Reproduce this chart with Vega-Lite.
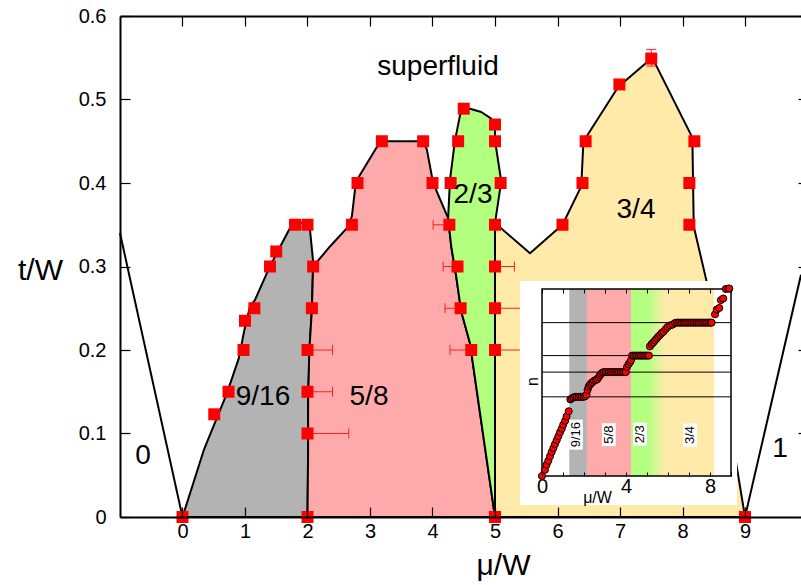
{
  "$schema": "https://vega.github.io/schema/vega-lite/v6.json",
  "width": 681,
  "height": 501,
  "autosize": "none",
  "padding": {"left": 120, "top": 16, "right": 0, "bottom": 68},
  "background": "white",
  "config": {
    "view": {"stroke": null},
    "font": "Liberation Sans",
    "axis": {"grid": false, "labelColor": "black", "titleColor": "black", "tickColor": "black", "domainColor": "black", "titleFontWeight": "normal", "labelFont": "Liberation Sans", "titleFont": "Liberation Sans", "zindex": 1, "labelFlush": false, "labelOverlap": false}
  },
  "datasets": {
    "regions": [
      {"r": "gray", "mu": 0, "t": 0}, {"r": "gray", "mu": 0.34, "t": 0.08}, {"r": "gray", "mu": 0.71, "t": 0.148}, {"r": "gray", "mu": 0.9, "t": 0.19}, {"r": "gray", "mu": 0.99, "t": 0.224}, {"r": "gray", "mu": 1.08, "t": 0.252}, {"r": "gray", "mu": 1.16, "t": 0.26}, {"r": "gray", "mu": 1.35, "t": 0.292}, {"r": "gray", "mu": 1.48, "t": 0.312}, {"r": "gray", "mu": 1.72, "t": 0.346}, {"r": "gray", "mu": 1.8, "t": 0.352}, {"r": "gray", "mu": 2.0, "t": 0.352}, {"r": "gray", "mu": 2.04, "t": 0.344}, {"r": "gray", "mu": 2.09, "t": 0.306}, {"r": "gray", "mu": 2.07, "t": 0.248}, {"r": "gray", "mu": 2.03, "t": 0.2}, {"r": "gray", "mu": 2.01, "t": 0.14}, {"r": "gray", "mu": 2.01, "t": 0.08}, {"r": "gray", "mu": 2.0, "t": 0}, {"r": "gray", "mu": 0, "t": 0},
      {"r": "pink", "mu": 2.0, "t": 0}, {"r": "pink", "mu": 2.01, "t": 0.08}, {"r": "pink", "mu": 2.01, "t": 0.14}, {"r": "pink", "mu": 2.03, "t": 0.2}, {"r": "pink", "mu": 2.07, "t": 0.248}, {"r": "pink", "mu": 2.09, "t": 0.3}, {"r": "pink", "mu": 2.36, "t": 0.324}, {"r": "pink", "mu": 2.63, "t": 0.346}, {"r": "pink", "mu": 2.71, "t": 0.36}, {"r": "pink", "mu": 2.76, "t": 0.392}, {"r": "pink", "mu": 2.81, "t": 0.406}, {"r": "pink", "mu": 3.11, "t": 0.443}, {"r": "pink", "mu": 3.19, "t": 0.45}, {"r": "pink", "mu": 3.85, "t": 0.45}, {"r": "pink", "mu": 3.91, "t": 0.44}, {"r": "pink", "mu": 4.01, "t": 0.4}, {"r": "pink", "mu": 4.25, "t": 0.358}, {"r": "pink", "mu": 4.3, "t": 0.324}, {"r": "pink", "mu": 4.38, "t": 0.288}, {"r": "pink", "mu": 4.46, "t": 0.246}, {"r": "pink", "mu": 4.6, "t": 0.208}, {"r": "pink", "mu": 5.0, "t": 0}, {"r": "pink", "mu": 2.0, "t": 0},
      {"r": "green", "mu": 5.0, "t": 0}, {"r": "green", "mu": 4.6, "t": 0.208}, {"r": "green", "mu": 4.46, "t": 0.246}, {"r": "green", "mu": 4.38, "t": 0.288}, {"r": "green", "mu": 4.3, "t": 0.324}, {"r": "green", "mu": 4.25, "t": 0.358}, {"r": "green", "mu": 4.28, "t": 0.404}, {"r": "green", "mu": 4.36, "t": 0.451}, {"r": "green", "mu": 4.44, "t": 0.481}, {"r": "green", "mu": 4.5, "t": 0.49}, {"r": "green", "mu": 4.6, "t": 0.489}, {"r": "green", "mu": 4.78, "t": 0.485}, {"r": "green", "mu": 4.94, "t": 0.477}, {"r": "green", "mu": 5.0, "t": 0.468}, {"r": "green", "mu": 5.0, "t": 0.451}, {"r": "green", "mu": 5.1, "t": 0.402}, {"r": "green", "mu": 5.0, "t": 0.352}, {"r": "green", "mu": 5.0, "t": 0},
      {"r": "yellow", "mu": 5.0, "t": 0}, {"r": "yellow", "mu": 5.0, "t": 0.352}, {"r": "yellow", "mu": 5.56, "t": 0.316}, {"r": "yellow", "mu": 6.08, "t": 0.35}, {"r": "yellow", "mu": 6.38, "t": 0.396}, {"r": "yellow", "mu": 6.41, "t": 0.443}, {"r": "yellow", "mu": 6.46, "t": 0.455}, {"r": "yellow", "mu": 6.97, "t": 0.515}, {"r": "yellow", "mu": 7.5, "t": 0.549}, {"r": "yellow", "mu": 7.55, "t": 0.545}, {"r": "yellow", "mu": 8.14, "t": 0.457}, {"r": "yellow", "mu": 8.16, "t": 0.443}, {"r": "yellow", "mu": 8.18, "t": 0.348}, {"r": "yellow", "mu": 8.38, "t": 0.284}, {"r": "yellow", "mu": 9.0, "t": 0}, {"r": "yellow", "mu": 5.0, "t": 0},
      {"r": "b0", "mu": -1, "t": 0.34}, {"r": "b0", "mu": 0, "t": 0},
      {"r": "b1", "mu": 9, "t": 0}, {"r": "b1", "mu": 9.896, "t": 0.29}
    ],
    "pts": [
      {"mu": 0, "t": 0}, {"mu": 0.508, "t": 0.123}, {"mu": 0.736, "t": 0.15}, {"mu": 0.976, "t": 0.2}, {"mu": 1.0, "t": 0.235}, {"mu": 1.15, "t": 0.25}, {"mu": 1.4, "t": 0.3}, {"mu": 1.5, "t": 0.318}, {"mu": 1.8, "t": 0.35},
      {"mu": 2.0, "t": 0.35}, {"mu": 2.09, "t": 0.3}, {"mu": 2.07, "t": 0.25}, {"mu": 2.0, "t": 0.2}, {"mu": 2.0, "t": 0.15}, {"mu": 2.0, "t": 0.1}, {"mu": 2.0, "t": 0},
      {"mu": 2.71, "t": 0.35}, {"mu": 2.8, "t": 0.4}, {"mu": 3.19, "t": 0.45}, {"mu": 3.85, "t": 0.45}, {"mu": 4.0, "t": 0.4}, {"mu": 4.27, "t": 0.35},
      {"mu": 4.29, "t": 0.4}, {"mu": 4.41, "t": 0.45}, {"mu": 4.5, "t": 0.489}, {"mu": 4.4, "t": 0.3}, {"mu": 4.45, "t": 0.25}, {"mu": 4.62, "t": 0.2},
      {"mu": 5.0, "t": 0.47}, {"mu": 5.0, "t": 0.45}, {"mu": 5.09, "t": 0.4}, {"mu": 5.0, "t": 0.35}, {"mu": 5.0, "t": 0.3}, {"mu": 5.0, "t": 0.25}, {"mu": 5.0, "t": 0.2}, {"mu": 5.0, "t": 0},
      {"mu": 6.08, "t": 0.35}, {"mu": 6.4, "t": 0.4}, {"mu": 6.45, "t": 0.45}, {"mu": 6.99, "t": 0.518}, {"mu": 7.5, "t": 0.549}, {"mu": 8.19, "t": 0.45}, {"mu": 8.11, "t": 0.4}, {"mu": 8.11, "t": 0.35}, {"mu": 9.0, "t": 0}
    ],
    "xerr": [
      {"t": 0.2, "lo": 2.0, "hi": 2.4}, {"t": 0.15, "lo": 2.0, "hi": 2.4}, {"t": 0.1, "lo": 2.0, "hi": 2.66},
      {"t": 0.35, "lo": 4.01, "hi": 4.27}, {"t": 0.3, "lo": 4.17, "hi": 4.4}, {"t": 0.3, "lo": 5.0, "hi": 5.31},
      {"t": 0.25, "lo": 4.2, "hi": 4.45}, {"t": 0.25, "lo": 5.0, "hi": 5.45}, {"t": 0.2, "lo": 4.28, "hi": 4.62}, {"t": 0.2, "lo": 5.0, "hi": 5.45}
    ],
    "yerr": [{"mu": 7.5, "lo": 0.54, "hi": 0.56}],
    "labels": [
      {"mu": 4.088, "t": 0.539, "label": "superfluid"},
      {"mu": 1.288, "t": 0.144, "label": "9/16"},
      {"mu": 2.984, "t": 0.144, "label": "5/8"},
      {"mu": 4.648, "t": 0.386, "label": "2/3"},
      {"mu": 7.256, "t": 0.368, "label": "3/4"},
      {"mu": -0.632, "t": 0.073, "label": "0"},
      {"mu": 9.56, "t": 0.081, "label": "1"}
    ],
    "inset": [
      {"mu": 0, "n": 0.3625}, {"mu": 0.14, "n": 0.378}, {"mu": 0.22, "n": 0.391}, {"mu": 0.3, "n": 0.401}, {"mu": 0.38, "n": 0.412}, {"mu": 0.46, "n": 0.423}, {"mu": 0.54, "n": 0.433}, {"mu": 0.62, "n": 0.443}, {"mu": 0.7, "n": 0.453}, {"mu": 0.78, "n": 0.463}, {"mu": 0.86, "n": 0.473}, {"mu": 0.94, "n": 0.482}, {"mu": 1.01, "n": 0.492}, {"mu": 1.1, "n": 0.502}, {"mu": 1.17, "n": 0.513}, {"mu": 1.27, "n": 0.526},
      {"mu": 1.35, "n": 0.556}, {"mu": 1.42, "n": 0.559}, {"mu": 1.5, "n": 0.561}, {"mu": 1.58, "n": 0.5625}, {"mu": 1.66, "n": 0.5625}, {"mu": 1.74, "n": 0.5625}, {"mu": 1.82, "n": 0.5625}, {"mu": 1.9, "n": 0.5625}, {"mu": 1.98, "n": 0.5625}, {"mu": 2.06, "n": 0.564}, {"mu": 2.12, "n": 0.568},
      {"mu": 2.17, "n": 0.58}, {"mu": 2.22, "n": 0.588}, {"mu": 2.28, "n": 0.593}, {"mu": 2.34, "n": 0.597}, {"mu": 2.41, "n": 0.6}, {"mu": 2.48, "n": 0.603}, {"mu": 2.56, "n": 0.605}, {"mu": 2.63, "n": 0.607}, {"mu": 2.7, "n": 0.612}, {"mu": 2.76, "n": 0.617}, {"mu": 2.82, "n": 0.621}, {"mu": 2.88, "n": 0.624},
      {"mu": 2.95, "n": 0.625}, {"mu": 3.03, "n": 0.625}, {"mu": 3.11, "n": 0.625}, {"mu": 3.19, "n": 0.625}, {"mu": 3.27, "n": 0.625}, {"mu": 3.35, "n": 0.625}, {"mu": 3.43, "n": 0.625}, {"mu": 3.51, "n": 0.625}, {"mu": 3.59, "n": 0.625}, {"mu": 3.67, "n": 0.625}, {"mu": 3.75, "n": 0.625}, {"mu": 3.83, "n": 0.625}, {"mu": 3.91, "n": 0.625}, {"mu": 3.99, "n": 0.625},
      {"mu": 4.05, "n": 0.638}, {"mu": 4.12, "n": 0.645}, {"mu": 4.19, "n": 0.65}, {"mu": 4.24, "n": 0.655},
      {"mu": 4.29, "n": 0.6667}, {"mu": 4.37, "n": 0.6667}, {"mu": 4.45, "n": 0.6667}, {"mu": 4.53, "n": 0.6667}, {"mu": 4.61, "n": 0.6667}, {"mu": 4.69, "n": 0.6667}, {"mu": 4.77, "n": 0.6667}, {"mu": 4.85, "n": 0.6667}, {"mu": 4.93, "n": 0.6667}, {"mu": 5.01, "n": 0.6667}, {"mu": 5.09, "n": 0.6667},
      {"mu": 5.14, "n": 0.69}, {"mu": 5.22, "n": 0.696}, {"mu": 5.3, "n": 0.7}, {"mu": 5.38, "n": 0.705}, {"mu": 5.46, "n": 0.71}, {"mu": 5.54, "n": 0.715}, {"mu": 5.62, "n": 0.719}, {"mu": 5.7, "n": 0.724}, {"mu": 5.78, "n": 0.727}, {"mu": 5.89, "n": 0.734}, {"mu": 5.98, "n": 0.739}, {"mu": 6.1, "n": 0.743}, {"mu": 6.22, "n": 0.745}, {"mu": 6.33, "n": 0.749},
      {"mu": 6.42, "n": 0.75}, {"mu": 6.5, "n": 0.75}, {"mu": 6.58, "n": 0.75}, {"mu": 6.66, "n": 0.75}, {"mu": 6.74, "n": 0.75}, {"mu": 6.82, "n": 0.75}, {"mu": 6.9, "n": 0.75}, {"mu": 6.98, "n": 0.75}, {"mu": 7.06, "n": 0.75}, {"mu": 7.14, "n": 0.75}, {"mu": 7.22, "n": 0.75}, {"mu": 7.3, "n": 0.75}, {"mu": 7.38, "n": 0.75}, {"mu": 7.46, "n": 0.75}, {"mu": 7.54, "n": 0.75}, {"mu": 7.62, "n": 0.75}, {"mu": 7.7, "n": 0.75}, {"mu": 7.78, "n": 0.75}, {"mu": 7.86, "n": 0.75}, {"mu": 7.94, "n": 0.75}, {"mu": 8.02, "n": 0.75}, {"mu": 8.08, "n": 0.75},
      {"mu": 8.24, "n": 0.771}, {"mu": 8.32, "n": 0.783}, {"mu": 8.44, "n": 0.787}, {"mu": 8.52, "n": 0.807}, {"mu": 8.63, "n": 0.811}, {"mu": 8.75, "n": 0.835}, {"mu": 8.87, "n": 0.836}, {"mu": 8.92, "n": 0.836}
    ],
    "bands": [
      {"lo": 1.3, "hi": 2.14, "band": "9/16"},
      {"lo": 2.14, "hi": 4.24, "band": "5/8"},
      {"lo": 5.86, "hi": 8.19, "band": "3/4"}
    ],
    "levels": [{"n": 0.5625}, {"n": 0.625}, {"n": 0.6667}, {"n": 0.75}],
    "insetLabels": [
      {"mu": 1.62, "n": 0.467, "label": "9/16"},
      {"mu": 3.18, "n": 0.467, "label": "5/8"},
      {"mu": 4.67, "n": 0.468, "label": "2/3"},
      {"mu": 7.05, "n": 0.466, "label": "3/4"}
    ]
  },
  "resolve": {"scale": {"x": "independent", "y": "independent"}},
  "layer": [
    {
      "resolve": {"axis": {"x": "independent", "y": "independent"}},
      "encoding": {
        "x": {"field": "mu", "type": "quantitative", "scale": {"domain": [-1, 9.896], "nice": false, "zero": false}, "axis": null},
        "y": {"field": "t", "type": "quantitative", "scale": {"domain": [0, 0.6], "nice": false, "zero": false}, "axis": null}
      },
      "layer": [
        {
          "data": {"name": "regions"},
          "transform": [{"filter": "datum.r === 'gray'"}],
          "mark": {"type": "line", "fill": "#b3b3b3", "stroke": "black", "strokeWidth": 2, "strokeJoin": "round"},
          "encoding": {
            "order": {"value": null},
            "x": {"field": "mu", "type": "quantitative", "axis": {"orient": "bottom", "zindex": 2, "values": [0, 1, 2, 3, 4, 5, 6, 7, 8, 9], "tickSize": -10, "tickWidth": 1.2, "domainWidth": 2, "labelFontSize": 20, "labelPadding": 14, "title": "μ/W", "titleFontSize": 30, "titleX": 383, "titleY": 48, "titleAlign": "center", "titleBaseline": "middle"}},
            "y": {"field": "t", "type": "quantitative", "axis": {"orient": "left", "zindex": 2, "values": [0, 0.1, 0.2, 0.3, 0.4, 0.5, 0.6], "format": "~g", "tickSize": -10, "tickWidth": 1.2, "domainWidth": 2, "labelFontSize": 20, "labelPadding": 24, "title": "t/W", "titleFontSize": 30, "titleAngle": 0, "titleAlign": "center", "titleBaseline": "middle", "titleX": -80, "titleY": 254}}
          }
        },
        {
          "data": {"name": "regions"},
          "transform": [{"filter": "datum.r === 'pink'"}],
          "mark": {"type": "line", "fill": "#ffaaaa", "stroke": "black", "strokeWidth": 2, "strokeJoin": "round"},
          "encoding": {"order": {"value": null}}
        },
        {
          "data": {"name": "regions"},
          "transform": [{"filter": "datum.r === 'green'"}],
          "mark": {"type": "line", "fill": "#b3ff80", "stroke": "black", "strokeWidth": 2, "strokeJoin": "round"},
          "encoding": {"order": {"value": null}}
        },
        {
          "data": {"name": "regions"},
          "transform": [{"filter": "datum.r === 'yellow'"}],
          "mark": {"type": "line", "fill": "#ffeaaa", "stroke": "black", "strokeWidth": 2, "strokeJoin": "round"},
          "encoding": {"order": {"value": null}}
        },
        {
          "data": {"name": "regions"},
          "transform": [{"filter": "datum.r === 'b0' || datum.r === 'b1'"}],
          "mark": {"type": "line", "stroke": "black", "strokeWidth": 2},
          "encoding": {"order": {"value": null}, "detail": {"field": "r"}}
        },
        {
          "data": {"name": "xerr"},
          "mark": {"type": "rule", "stroke": "#ff2020", "strokeWidth": 1},
          "encoding": {"x": {"field": "lo", "type": "quantitative"}, "x2": {"field": "hi"}}
        },
        {
          "data": {"name": "xerr"},
          "mark": {"type": "rule", "stroke": "#ff2020", "strokeWidth": 1, "yOffset": -5, "y2Offset": 5},
          "encoding": {"x": {"field": "lo", "type": "quantitative"}, "y2": {"field": "t"}}
        },
        {
          "data": {"name": "xerr"},
          "mark": {"type": "rule", "stroke": "#ff2020", "strokeWidth": 1, "yOffset": -5, "y2Offset": 5},
          "encoding": {"x": {"field": "hi", "type": "quantitative"}, "y2": {"field": "t"}}
        },
        {
          "data": {"name": "yerr"},
          "mark": {"type": "rule", "stroke": "#ff2020", "strokeWidth": 1},
          "encoding": {"y": {"field": "lo", "type": "quantitative"}, "y2": {"field": "hi"}}
        },
        {
          "data": {"name": "yerr"},
          "mark": {"type": "rule", "stroke": "#ff2020", "strokeWidth": 1, "xOffset": -5, "x2Offset": 5},
          "encoding": {"y": {"field": "lo", "type": "quantitative"}, "x2": {"field": "mu"}}
        },
        {
          "data": {"name": "yerr"},
          "mark": {"type": "rule", "stroke": "#ff2020", "strokeWidth": 1, "xOffset": -5, "x2Offset": 5},
          "encoding": {"y": {"field": "hi", "type": "quantitative"}, "x2": {"field": "mu"}}
        },
        {
          "data": {"name": "pts"},
          "mark": {"type": "square", "size": 144, "color": "#ff0000", "opacity": 1, "filled": true},
          "encoding": {
            "x": {"field": "mu", "type": "quantitative", "axis": {"orient": "top", "zindex": 2, "values": [0, 1, 2, 3, 4, 5, 6, 7, 8, 9], "tickSize": -10, "tickWidth": 1.2, "domainWidth": 2, "labels": false, "title": null}},
            "y": {"field": "t", "type": "quantitative", "axis": {"orient": "right", "zindex": 2, "values": [0, 0.1, 0.2, 0.3, 0.4, 0.5, 0.6], "tickSize": -3, "tickWidth": 1.2, "domain": false, "labels": false, "title": null}}
          }
        },
        {
          "data": {"name": "labels"},
          "mark": {"type": "text", "fontSize": 28, "font": "Liberation Sans", "color": "black", "align": "center", "baseline": "middle"},
          "encoding": {"text": {"field": "label"}}
        }
      ]
    },
    {
      "resolve": {"axis": {"x": "independent", "y": "independent"}},
      "layer": [
        {
          "data": {"values": [{}]},
          "mark": {"type": "rect", "color": "white", "opacity": 1},
          "encoding": {
            "x": {"datum": -1.05, "type": "quantitative", "scale": {"domain": [0, 9], "range": [422, 611], "nice": false, "zero": false}, "axis": null},
            "x2": {"datum": 9.29},
            "y": {"datum": 0.289, "type": "quantitative", "scale": {"domain": [0.3625, 0.835], "range": [460, 273], "nice": false, "zero": false}, "axis": null},
            "y2": {"datum": 0.855}
          }
        },
        {
          "data": {"name": "bands"},
          "mark": {"type": "rect", "opacity": 1},
          "encoding": {
            "x": {"field": "lo", "type": "quantitative", "scale": {"domain": [0, 9], "range": [422, 611], "nice": false, "zero": false}, "axis": null},
            "x2": {"field": "hi"},
            "y": {"datum": 0.3625, "type": "quantitative", "scale": {"domain": [0.3625, 0.835], "range": [460, 273], "nice": false, "zero": false}, "axis": null},
            "y2": {"datum": 0.835},
            "color": {"field": "band", "type": "nominal", "scale": {"domain": ["9/16", "5/8", "3/4"], "range": ["#b3b3b3", "#ffaaaa", "#ffeaaa"]}, "legend": null}
          }
        },
        {
          "data": {"values": [{}]},
          "mark": {"type": "rect", "opacity": 1, "color": {"gradient": "linear", "x1": 0, "x2": 1, "y1": 0, "y2": 0, "stops": [{"offset": 0, "color": "#b3ff80"}, {"offset": 0.5, "color": "#b3ff80"}, {"offset": 1, "color": "#ffeaaa"}]}},
          "encoding": {
            "x": {"datum": 4.24, "type": "quantitative", "scale": {"domain": [0, 9], "range": [422, 611], "nice": false, "zero": false}, "axis": null},
            "x2": {"datum": 5.86},
            "y": {"datum": 0.3625, "type": "quantitative", "scale": {"domain": [0.3625, 0.835], "range": [460, 273], "nice": false, "zero": false}, "axis": null},
            "y2": {"datum": 0.835}
          }
        },
        {
          "data": {"name": "levels"},
          "mark": {"type": "rule", "color": "black", "strokeWidth": 1},
          "encoding": {
            "x": {"datum": 0, "type": "quantitative", "scale": {"domain": [0, 9], "range": [422, 611], "nice": false, "zero": false}, "axis": null},
            "x2": {"datum": 9},
            "y": {"field": "n", "type": "quantitative", "scale": {"domain": [0.3625, 0.835], "range": [460, 273], "nice": false, "zero": false}, "axis": null}
          }
        },
        {
          "data": {"values": [{}]},
          "mark": {"type": "rect", "fill": null, "fillOpacity": 0, "stroke": "black", "strokeWidth": 1.5},
          "encoding": {
            "x": {"datum": 0, "type": "quantitative", "scale": {"domain": [0, 9], "range": [422, 611], "nice": false, "zero": false}, "axis": null},
            "x2": {"datum": 9},
            "y": {"datum": 0.3625, "type": "quantitative", "scale": {"domain": [0.3625, 0.835], "range": [460, 273], "nice": false, "zero": false}, "axis": null},
            "y2": {"datum": 0.835}
          }
        },
        {
          "data": {"name": "inset"},
          "mark": {"type": "circle", "size": 50, "fill": "#ff0000", "stroke": "black", "strokeWidth": 1, "opacity": 1},
          "encoding": {
            "x": {"field": "mu", "type": "quantitative", "scale": {"domain": [0, 9], "range": [422, 611], "nice": false, "zero": false}, "axis": {"orient": "bottom", "offset": -41, "zindex": 2, "values": [0, 1, 2, 3, 4, 5, 6, 7, 8, 9], "labelExpr": "datum.value % 4 === 0 ? datum.label : ''", "tickSize": -4, "tickWidth": 1, "domain": false, "labelFontSize": 20, "labelPadding": 4, "title": "μ/W", "titleFontSize": 16, "titleX": 477, "titleY": 21, "titleBaseline": "middle", "titleAlign": "center"}},
            "y": {"field": "n", "type": "quantitative", "scale": {"domain": [0.3625, 0.835], "range": [460, 273], "nice": false, "zero": false}, "axis": {"orient": "left", "offset": -422, "zindex": 2, "labels": false, "ticks": false, "domain": false, "title": "n", "titleFontSize": 16, "titleAngle": -90, "titleX": -10, "titleY": 365, "titleAlign": "center", "titleBaseline": "middle"}}
          }
        },
        {
          "data": {"name": "insetLabels"},
          "transform": [{"filter": "datum.label === '9/16'"}],
          "mark": {"type": "point", "shape": "M-0.45,-1H0.45V1H-0.45Z", "size": 900, "filled": true, "fill": "white", "stroke": null, "opacity": 1, "fillOpacity": 1},
          "encoding": {
            "x": {"field": "mu", "type": "quantitative", "scale": {"domain": [0, 9], "range": [422, 611], "nice": false, "zero": false}, "axis": null},
            "y": {"field": "n", "type": "quantitative", "scale": {"domain": [0.3625, 0.835], "range": [460, 273], "nice": false, "zero": false}, "axis": null}
          }
        },
        {
          "data": {"name": "insetLabels"},
          "transform": [{"filter": "datum.label !== '9/16'"}],
          "mark": {"type": "point", "shape": "M-0.6,-1H0.6V1H-0.6Z", "size": 529, "filled": true, "fill": "white", "stroke": null, "opacity": 1, "fillOpacity": 1},
          "encoding": {
            "x": {"field": "mu", "type": "quantitative", "scale": {"domain": [0, 9], "range": [422, 611], "nice": false, "zero": false}, "axis": null},
            "y": {"field": "n", "type": "quantitative", "scale": {"domain": [0.3625, 0.835], "range": [460, 273], "nice": false, "zero": false}, "axis": null}
          }
        },
        {
          "data": {"name": "insetLabels"},
          "mark": {"type": "text", "angle": 270, "fontSize": 13, "font": "Liberation Sans", "color": "black", "align": "center", "baseline": "middle"},
          "encoding": {
            "x": {"field": "mu", "type": "quantitative", "scale": {"domain": [0, 9], "range": [422, 611], "nice": false, "zero": false}, "axis": {"orient": "top", "offset": -273, "zindex": 2, "values": [0, 1, 2, 3, 4, 5, 6, 7, 8, 9], "tickSize": -4, "tickWidth": 1, "domain": false, "labels": false, "title": null}},
            "y": {"field": "n", "type": "quantitative", "scale": {"domain": [0.3625, 0.835], "range": [460, 273], "nice": false, "zero": false}, "axis": null},
            "text": {"field": "label"}
          }
        }
      ]
    }
  ]
}
